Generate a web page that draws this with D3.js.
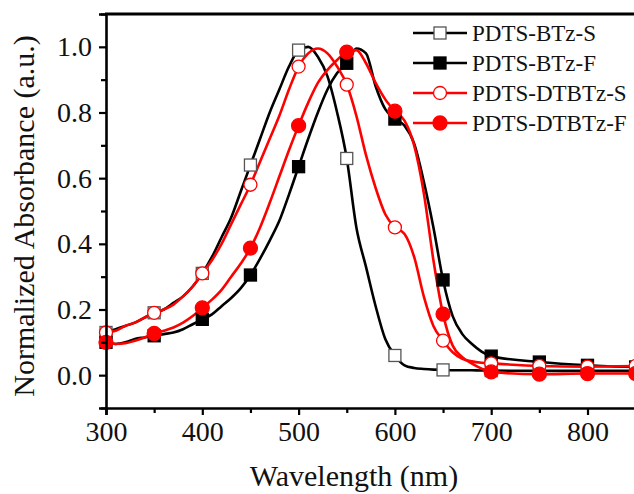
<!DOCTYPE html>
<html>
<head>
<meta charset="utf-8">
<script src="https://cdn.jsdelivr.net/npm/d3@7"></script>
<style>
  body { margin: 0; background: #fff; }
  text { font-family: "Liberation Serif", "Times New Roman", serif; fill: #111; }
</style>
</head>
<body>
<div id="chart"></div>
<script>
// data
const wavelength = [300, 310, 320, 330, 340, 350, 360, 370, 380, 390,
  400, 410, 420, 430, 440, 450, 460, 470, 480, 490,
  500, 510, 520, 530, 540, 550, 560, 570, 580, 590,
  600, 610, 620, 630, 640, 650, 660, 670, 680, 690,
  700, 750, 800, 850, 900];

const btzS = [0.13, 0.14, 0.15, 0.16, 0.175, 0.19, 0.20, 0.22, 0.24, 0.27,
  0.31, 0.36, 0.42, 0.48, 0.56, 0.64, 0.72, 0.80, 0.87, 0.94,
  0.99, 1.0, 0.97, 0.91, 0.80, 0.66, 0.45, 0.33, 0.21, 0.11,
  0.06, 0.03, 0.022, 0.019, 0.017, 0.016, 0.015, 0.015, 0.015, 0.014,
  0.014, 0.013, 0.013, 0.013, 0.013];

const btzF = [0.10, 0.095, 0.10, 0.11, 0.115, 0.12, 0.125, 0.13, 0.14, 0.155,
  0.17, 0.185, 0.21, 0.235, 0.265, 0.305, 0.355, 0.41, 0.47, 0.55,
  0.635, 0.72, 0.80, 0.87, 0.92, 0.95, 0.995, 0.98, 0.88, 0.81,
  0.78, 0.76, 0.705, 0.59, 0.45, 0.29, 0.18, 0.125, 0.095, 0.072,
  0.058, 0.04, 0.03, 0.025, 0.025];

const dtbtzS = [0.13, 0.135, 0.15, 0.16, 0.175, 0.19, 0.20, 0.215, 0.24, 0.27,
  0.31, 0.35, 0.40, 0.46, 0.52, 0.58, 0.65, 0.72, 0.79, 0.87,
  0.94, 0.98, 0.995, 0.98, 0.94, 0.885, 0.79, 0.67, 0.57, 0.49,
  0.45, 0.43, 0.36, 0.24, 0.15, 0.105, 0.07, 0.05, 0.042, 0.038,
  0.036, 0.028, 0.026, 0.028, 0.028];

const dtbtzF = [0.10, 0.095, 0.097, 0.105, 0.115, 0.127, 0.135, 0.145, 0.16, 0.18,
  0.205, 0.23, 0.26, 0.30, 0.34, 0.387, 0.45, 0.525, 0.605, 0.685,
  0.76, 0.83, 0.89, 0.93, 0.96, 0.984, 0.99, 0.95, 0.89, 0.84,
  0.804, 0.775, 0.70, 0.555, 0.35, 0.186, 0.09, 0.055, 0.035, 0.02,
  0.01, 0.003, 0.005, 0.005, 0.005];

const seriesNames = ["PDTS-BTz-S", "PDTS-BTz-F", "PDTS-DTBTz-S", "PDTS-DTBTz-F"];
const xTicks = [300, 400, 500, 600, 700, 800];
const yTicks = [0.0, 0.2, 0.4, 0.6, 0.8, 1.0];

//define svg size
const width = 634;
const height = 494;
const padding = { left: 106, top: 14, bottom: 86 };

const series = [
  { name: seriesNames[0], values: btzS, color: "#000", shape: "square", filled: false },
  { name: seriesNames[1], values: btzF, color: "#000", shape: "square", filled: true },
  { name: seriesNames[2], values: dtbtzS, color: "#f00", shape: "circle", filled: false },
  { name: seriesNames[3], values: dtbtzF, color: "#f00", shape: "circle", filled: true }
];

//create Scales
const xScale = d3.scaleLinear()
  .domain([300, 900])
  .range([padding.left, padding.left + 6 * 96.3]);

const yScale = d3.scaleLinear()
  .domain([-0.1, 1.1])
  .range([height - padding.bottom, padding.top]);

const svg = d3.select("#chart")
  .append("svg")
  .attr("width", width)
  .attr("height", height);

const line = d3.line()
  .x(d => xScale(d[0]))
  .y(d => yScale(d[1]))
  .curve(d3.curveMonotoneX);

function drawMarker(g, s, x, y) {
  if (s.shape === "square") {
    g.append("rect")
      .attr("x", x - 6).attr("y", y - 6)
      .attr("width", 12).attr("height", 12)
      .attr("fill", s.filled ? "#000" : "#fff")
      .attr("stroke", s.filled ? "#000" : "#555")
      .attr("stroke-width", 1.3);
  } else {
    g.append("circle")
      .attr("cx", x).attr("cy", y)
      .attr("r", s.filled ? 7 : 6.5)
      .attr("fill", s.filled ? "#f00" : "#fff")
      .attr("stroke", "#f00")
      .attr("stroke-width", 1.3);
  }
}

// curves
series.forEach(s => {
  const pts = wavelength.map((w, i) => [w, s.values[i]]);
  svg.append("path")
    .datum(pts)
    .attr("d", line)
    .attr("fill", "none")
    .attr("stroke", s.color)
    .attr("stroke-width", 2.6);
});

// markers every 50 nm
series.forEach(s => {
  const g = svg.append("g");
  wavelength.forEach((w, i) => {
    if (w % 50 === 0 && w <= 850) drawMarker(g, s, xScale(w), yScale(s.values[i]));
  });
});

// Create Axis
const xAxis = d3.axisBottom(xScale)
  .tickValues(d3.range(300, 900, 50))
  .tickSize(7)
  .tickFormat(d => xTicks.includes(d) ? d : "");

const gx = svg.append("g")
  .attr("transform", "translate(0," + (height - padding.bottom) + ")")
  .call(xAxis);

const yAxis = d3.axisLeft(yScale)
  .tickValues(d3.range(-0.1, 1.11, 0.1).map(v => +v.toFixed(1)))
  .tickSize(7)
  .tickFormat(d => yTicks.includes(d) ? d.toFixed(1) : "");

const gy = svg.append("g")
  .attr("transform", "translate(" + padding.left + ",0)")
  .call(yAxis);

[gx, gy].forEach(g => {
  g.select(".domain").attr("stroke", "#000").attr("stroke-width", 2.6);
  g.selectAll(".tick line").attr("stroke", "#000").attr("stroke-width", 2.2);
  g.selectAll(".tick text")
    .style("font-family", "'Liberation Serif', serif")
    .style("font-size", "28px")
    .attr("fill", "#111");
});
gx.selectAll(".tick text").attr("y", 13);
gy.selectAll(".tick text").attr("x", -14);
// minor ticks shorter
gx.selectAll(".tick").filter(d => !xTicks.includes(d)).select("line").attr("y2", 5);
gy.selectAll(".tick").filter(d => !yTicks.includes(d)).select("line").attr("x2", -5);

// top frame
svg.append("line")
  .attr("x1", padding.left - 1).attr("x2", width)
  .attr("y1", padding.top).attr("y2", padding.top)
  .attr("stroke", "#000").attr("stroke-width", 3);

// axis titles
svg.append("text")
  .attr("x", 354)
  .attr("y", 486)
  .attr("text-anchor", "middle")
  .style("font-size", "30px")
  .text("Wavelength (nm)");

svg.append("text")
  .attr("transform", "translate(34,216) rotate(-90)")
  .attr("text-anchor", "middle")
  .style("font-size", "30px")
  .text("Normalized Absorbance (a.u.)");

// legend
const legend = svg.append("g");
series.forEach((s, i) => {
  const cy = 33 + i * 30;
  legend.append("line")
    .attr("x1", 413).attr("x2", 467)
    .attr("y1", cy).attr("y2", cy)
    .attr("stroke", s.color).attr("stroke-width", 2.6);
  drawMarker(legend, s, 440, cy);
  legend.append("text")
    .attr("x", 472)
    .attr("y", cy + 8)
    .style("font-size", "23px")
    .text(s.name);
});
</script>
</body>
</html>
